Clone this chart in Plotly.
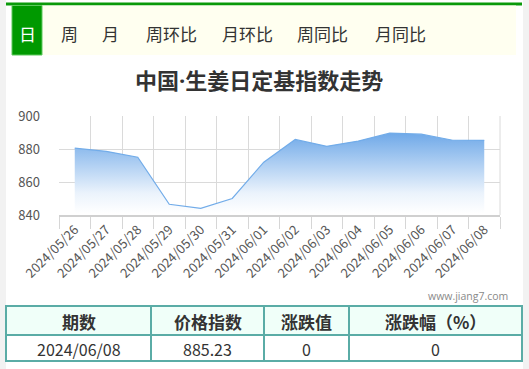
import plotly.graph_objects as go

# ---------------- data ----------------
dates = ["2024/05/26", "2024/05/27", "2024/05/28", "2024/05/29", "2024/05/30",
         "2024/05/31", "2024/06/01", "2024/06/02", "2024/06/03", "2024/06/04",
         "2024/06/05", "2024/06/06", "2024/06/07", "2024/06/08"]
values = [880.5, 878.6, 875.0, 846.5, 844.0, 850.0, 872.0, 885.8, 881.6,
          884.8, 889.6, 889.0, 885.3, 885.23]
y_ticks = [840, 860, 880, 900]

title_text = "中国·生姜日定基指数走势"
tab_labels = ["日", "周", "月", "周环比", "月环比", "周同比", "月同比"]
tab_centers = [27, 69, 110, 171, 247, 323, 400]

table_header = ["期数", "价格指数", "涨跌值", "涨跌幅（%）"]
table_row = ["2024/06/08", "885.23", "0", "0"]
col_edges = [6, 151, 264, 349, 522]

W, H = 529, 369
CJK = "Noto Sans CJK SC"


def px(x):
    return x / W


def py(y):
    return 1 - y / H


fig = go.Figure()
fig.add_trace(go.Scatter(
    x=dates, y=values, mode="lines",
    line=dict(color="#72ace9", width=1.2),
    fill="tozeroy",
    fillgradient=dict(type="vertical",
                      colorscale=[[0, "rgba(255,255,255,1)"], [0.25, "rgba(235,243,252,1)"],
                                  [1, "rgba(110,168,232,1)"]],
                      start=841, stop=890),
    hoverinfo="skip", showlegend=False,
))

shapes = []
annotations = []

# page background strips
shapes.append(dict(type="rect", xref="paper", yref="paper", x0=0, x1=px(6), y0=0, y1=1,
                   fillcolor="#f2f2f2", line=dict(width=0), layer="below"))
shapes.append(dict(type="rect", xref="paper", yref="paper", x0=px(523), x1=1, y0=0, y1=1,
                   fillcolor="#f2f2f2", line=dict(width=0), layer="below"))

# tab bar
shapes.append(dict(type="rect", xref="paper", yref="paper", x0=px(6), x1=px(522), y0=py(5.5), y1=py(2.5),
                   fillcolor="#0a9a0a", line=dict(width=0)))
shapes.append(dict(type="rect", xref="paper", yref="paper", x0=px(12), x1=px(516), y0=py(55), y1=py(5.5),
                   fillcolor="#fffff0", line=dict(width=0)))
shapes.append(dict(type="rect", xref="paper", yref="paper", x0=px(12), x1=px(42), y0=py(55), y1=py(5.5),
                   fillcolor="#009900", line=dict(color="#5cc85c", width=1)))
for i, (lab, cx) in enumerate(zip(tab_labels, tab_centers)):
    annotations.append(dict(text=lab, x=px(cx), y=py(33), xref="paper", yref="paper",
                            showarrow=False, xanchor="center", yanchor="middle",
                            font=dict(family=CJK, size=17, color="#ffffff" if i == 0 else "#333333")))

# title
annotations.append(dict(text="<b>" + title_text + "</b>", x=px(259), y=py(80), xref="paper", yref="paper",
                        showarrow=False, xanchor="center", yanchor="middle",
                        font=dict(family="Open Sans, " + CJK, size=22, color="#333333")))

# watermark
annotations.append(dict(text="www.jiang7.com", x=px(510), y=py(296), xref="paper", yref="paper",
                        showarrow=False, xanchor="right", yanchor="middle",
                        font=dict(family="Open Sans", size=10.5, color="#8a8a8a")))

# table
t_top, t_mid, t_bot = 306, 335, 361
shapes.append(dict(type="rect", xref="paper", yref="paper", x0=px(col_edges[0]), x1=px(col_edges[-1]),
                   y0=py(t_mid), y1=py(t_top), fillcolor="#f0fff9", line=dict(width=0)))
border = dict(color="#5aaca6", width=2)
shapes.append(dict(type="rect", xref="paper", yref="paper", x0=px(col_edges[0]), x1=px(col_edges[-1]),
                   y0=py(t_bot), y1=py(t_top), line=border))
shapes.append(dict(type="line", xref="paper", yref="paper", x0=px(col_edges[0]), x1=px(col_edges[-1]),
                   y0=py(t_mid), y1=py(t_mid), line=border))
for xe in col_edges[1:-1]:
    shapes.append(dict(type="line", xref="paper", yref="paper", x0=px(xe), x1=px(xe),
                       y0=py(t_bot), y1=py(t_top), line=border))
for i in range(4):
    cx = (col_edges[i] + col_edges[i + 1]) / 2
    annotations.append(dict(text="<b>" + table_header[i] + "</b>", x=px(cx), y=py(321), xref="paper",
                            yref="paper", showarrow=False, xanchor="center", yanchor="middle",
                            font=dict(family=CJK, size=17, color="#333333")))
    annotations.append(dict(text=table_row[i], x=px(cx), y=py(349), xref="paper",
                            yref="paper", showarrow=False, xanchor="center", yanchor="middle",
                            font=dict(family=CJK, size=16, color="#333333")))

fig.update_layout(
    width=W, height=H,
    margin=dict(l=0, r=0, t=0, b=0, autoexpand=False),
    paper_bgcolor="#ffffff", plot_bgcolor="#ffffff",
    shapes=shapes, annotations=annotations,
    xaxis=dict(domain=[px(59), px(500)], type="category", range=[-0.5, 13.5],
               tickson="boundaries", ticks="outside", ticklen=12, tickcolor="#d6d6d6",
               showgrid=True, gridcolor="#dadada", gridwidth=1,
               showline=True, linecolor="#d0d0d0", linewidth=2,
               tickangle=-45, tickfont=dict(family=CJK, size=13, color="#555555"),
               fixedrange=True, zeroline=False, automargin=False),
    yaxis=dict(domain=[py(215), py(116)], range=[840, 900], tickvals=y_ticks,
               showgrid=True, gridcolor="#dadada", gridwidth=1, zeroline=False,
               ticks="", ticklabelstandoff=18,
               tickfont=dict(family=CJK, size=13, color="#555555"),
               mirror=False, fixedrange=True, automargin=False),
)
# right border of plot area
fig.add_shape(type="line", xref="paper", yref="paper", x0=px(500), x1=px(500), y0=py(215), y1=py(116),
              line=dict(color="#dadada", width=1))

fig.write_html("out.html")
